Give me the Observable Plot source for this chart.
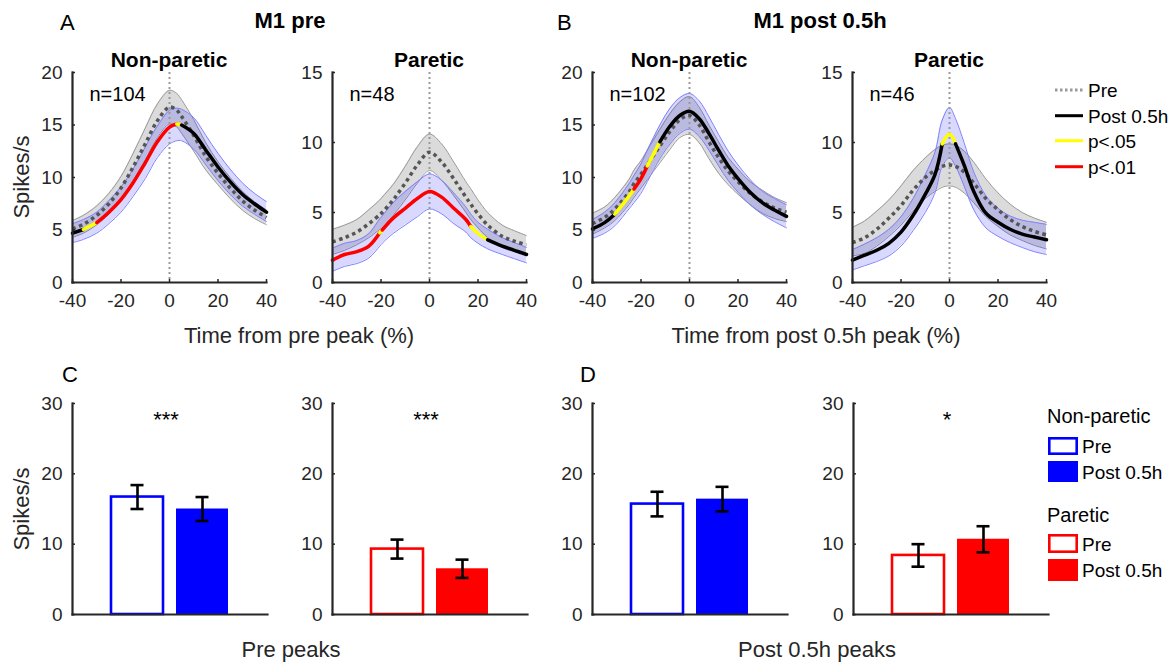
<!DOCTYPE html>
<html><head><meta charset="utf-8">
<script src="https://cdn.jsdelivr.net/npm/d3@7"></script>
<script src="https://cdn.jsdelivr.net/npm/@observablehq/plot@0.6"></script>
<style>
html,body{margin:0;padding:0;background:#fff;}
#fig{position:relative;width:1173px;height:665px;overflow:hidden;background:#fff;}
</style></head><body><div id="fig"></div>
<script>
// ---------- DATA ----------
// Panel A, Non-paretic (time from pre peak, %)
const tA      = [-40,-35.5,-30,-25,-20,-15,-10,-5,0,3,5,10,15,20,25,30,35,40];
const preA    = [5.1,5.55,6.4,7.5,9.0,11.0,13.2,15.4,16.7,16.4,15.8,14.0,12.0,10.4,9.0,7.8,6.9,6.2];
const preLoA  = [4.3,4.7,5.5,6.5,7.9,9.7,11.7,13.8,15.1,14.8,14.2,12.5,10.7,9.3,8.0,6.9,6.1,5.5];
const preHiA  = [5.9,6.4,7.3,8.5,10.1,12.3,14.7,17.0,18.3,18.0,17.4,15.5,13.3,11.5,10.0,8.7,7.7,6.9];
const postA   = [4.7,5.05,5.7,6.7,7.9,9.5,11.4,13.4,14.8,15.1,15.0,14.2,12.6,11.0,9.6,8.4,7.5,6.7];
const postLoA = [3.8,4.1,4.7,5.6,6.7,8.2,9.9,11.9,13.2,13.5,13.5,12.7,11.2,9.7,8.4,7.3,6.5,5.8];
const postHiA = [5.6,6.0,6.7,7.8,9.1,10.8,12.9,14.9,16.4,16.6,16.5,15.7,14.0,12.3,10.8,9.5,8.5,7.7];
const sigA    = ["n","y","r","r","r","r","r","r","r","y","n","n","n","n","n","n","n","n"];

// Panel A, Paretic
const tB      = [-40,-35,-30,-25,-20.5,-19.5,-15,-10,-5,0,5,10,15,17,20,24,30,35,40];
const preB    = [2.9,3.2,3.6,4.2,4.85,5.0,5.9,7.1,8.4,9.3,8.6,7.4,6.1,5.6,4.9,4.1,3.3,2.95,2.7];
const preLoB  = [2.0,2.3,2.7,3.2,3.8,3.9,4.8,5.9,7.1,8.0,7.3,6.2,5.0,4.5,3.9,3.2,2.5,2.2,2.05];
const preHiB  = [3.8,4.1,4.5,5.2,5.9,6.1,7.0,8.3,9.7,10.6,9.9,8.6,7.2,6.7,5.9,5.0,4.1,3.7,3.35];
const postB   = [1.6,2.0,2.2,2.6,3.55,3.75,4.6,5.3,6.0,6.5,6.1,5.3,4.5,4.0,3.5,3.05,2.6,2.3,2.0];
const postLoB = [0.8,1.15,1.35,1.75,2.6,2.8,3.5,4.1,4.7,5.25,4.9,4.2,3.6,3.2,2.8,2.4,2.0,1.7,1.4];
const postHiB = [2.45,2.8,3.0,3.5,4.55,4.75,5.7,6.5,7.2,7.75,7.3,6.4,5.4,4.9,4.3,3.8,3.2,2.85,2.5];
const sigB    = ["r","r","r","r","y","r","r","r","r","r","r","r","r","y","y","n","n","n","n"];

// Panel B, Non-paretic (time from post 0.5h peak, %)
const tC      = [-40,-35,-30.8,-25,-22.9,-20,-17.4,-12.2,-8,-4,0,4,8,12,16,20,25,30,35,40];
const preC    = [5.6,6.2,7.0,8.6,9.4,10.3,11.2,13.0,14.4,15.5,15.9,15.0,13.4,11.9,10.6,9.6,8.5,7.7,7.1,6.7];
const preLoC  = [4.6,5.2,5.9,7.4,8.1,9.0,9.8,11.4,12.7,13.8,14.1,13.3,11.8,10.4,9.3,8.4,7.4,6.6,6.1,5.8];
const preHiC  = [6.6,7.2,8.1,9.8,10.7,11.6,12.6,14.6,16.1,17.2,17.7,16.7,15.0,13.4,11.9,10.8,9.6,8.8,8.1,7.6];
const postC   = [5.1,5.7,6.5,8.2,8.9,9.9,11.1,13.4,14.9,15.9,16.3,15.6,14.2,12.6,11.1,9.9,8.6,7.6,6.9,6.3];
const postLoC = [4.2,4.7,5.4,7.0,7.6,8.5,9.6,11.8,13.2,14.2,14.6,13.9,12.6,11.1,9.7,8.6,7.4,6.5,5.8,5.2];
const postHiC = [6.0,6.7,7.6,9.4,10.2,11.3,12.6,15.0,16.6,17.6,18.0,17.3,15.8,14.1,12.5,11.2,9.8,8.7,8.0,7.4];
const sigC    = ["n","n","y","y","r","r","y","n","n","n","n","n","n","n","n","n","n","n","n","n"];

// Panel B, Paretic
const tD      = [-40,-35,-30,-25,-20,-15,-10,-6,-3,0,2.5,6,10,15,20,25,30,35,40];
const preD    = [2.85,3.2,3.8,4.6,5.5,6.6,7.5,8.0,8.3,8.4,8.3,7.9,7.1,6.0,5.2,4.5,4.0,3.65,3.4];
const preLoD  = [1.9,2.1,2.6,3.3,4.1,5.1,6.0,6.5,6.8,6.9,6.8,6.4,5.7,4.7,4.0,3.4,3.0,2.65,2.4];
const preHiD  = [3.95,4.4,5.1,5.9,6.9,8.0,8.9,9.5,9.8,9.9,9.8,9.4,8.6,7.4,6.4,5.6,5.0,4.6,4.3];
const postD   = [1.6,1.95,2.3,2.8,3.6,4.8,6.3,7.7,9.9,10.6,9.9,8.4,6.5,4.95,4.3,3.8,3.45,3.25,3.05];
const postLoD = [0.9,1.2,1.5,1.9,2.6,3.7,5.0,6.4,8.3,8.9,8.3,6.9,5.2,3.9,3.3,2.85,2.5,2.2,2.0];
const postHiD = [2.35,2.75,3.2,3.8,4.7,6.0,7.7,9.3,11.6,12.5,11.7,10.0,7.9,6.2,5.3,4.75,4.45,4.3,4.15];
const sigD    = ["n","n","n","n","n","n","n","n","y","y","n","n","n","n","n","n","n","n","n"];

const nLabels = ["n=104", "n=48", "n=102", "n=46"];
const xTicks = [-40, -20, 0, 20, 40];
const yTicksNon = [0, 5, 10, 15, 20];
const yTicksPar = [0, 5, 10, 15];

// Bar panels (C: pre peaks, D: post 0.5h peaks)
const conds = ["Pre", "Post 0.5h"];
const cNonMean = [16.7, 15.0], cNonSem = [1.7, 1.7];
const cParMean = [9.3, 6.5],   cParSem = [1.35, 1.3];
const dNonMean = [15.7, 16.4], dNonSem = [1.75, 1.75];
const dParMean = [8.4, 10.7],  dParSem = [1.6, 1.85];
const barStars = ["***", "***", "", "*"];
const barTicks = [0, 10, 20, 30];

// Text
const panelLetters = ["A", "B", "C", "D"];
const groupTitles = ["M1 pre", "M1 post 0.5h"];
const sideTitles = ["Non-paretic", "Paretic"];
const timeLabels = ["Time from pre peak (%)", "Time from post 0.5h peak (%)"];
const peakLabels = ["Pre peaks", "Post 0.5h peaks"];
const lineLegend = ["Pre", "Post 0.5h", "p<.05", "p<.01"];

// ---------- STYLE / LAYOUT ----------
const FONT = '"Liberation Sans", Arial, Helvetica, sans-serif';
const INK = "#262626";
const SIG = {n: "#000000", y: "#ffff00", r: "#ff0000"};
const CURVE = "catmull-rom";
const fig = document.getElementById("fig");

function place(svg, left, top) {
  svg.style.position = "absolute";
  svg.style.left = left + "px";
  svg.style.top = top + "px";
  fig.appendChild(svg);
}

function curvePanel(t, pre, preLo, preHi, post, postLo, postHi, sig, n, yMax, yTicks, x0) {
  const rows = t.map((v, i) => ({t: v, pre: pre[i], preLo: preLo[i], preHi: preHi[i],
    post: post[i], postLo: postLo[i], postHi: postHi[i], sig: sig[i]}));
  const mL = 60, mR = 12, mT = 10, mB = 40, W = 194, H = 210;
  const svg = Plot.plot({
    width: mL + W + mR, height: mT + H + mB,
    marginLeft: mL, marginRight: mR, marginTop: mT, marginBottom: mB,
    x: {domain: [-40, 40], axis: null},
    y: {domain: [0, yMax], axis: null},
    color: {type: "identity"},
    style: {fontFamily: FONT, fontSize: "19px", color: INK, background: "transparent", overflow: "visible"},
    marks: [
      Plot.areaY(rows, {x: "t", y1: "preLo", y2: "preHi", fill: "#000", fillOpacity: 0.14, curve: CURVE}),
      Plot.line(rows, {x: "t", y: "preHi", stroke: "#9a9a9a", strokeWidth: 1, curve: CURVE}),
      Plot.line(rows, {x: "t", y: "preLo", stroke: "#9a9a9a", strokeWidth: 1, curve: CURVE}),
      Plot.areaY(rows, {x: "t", y1: "postLo", y2: "postHi", fill: "#0000ff", fillOpacity: 0.15, curve: CURVE}),
      Plot.line(rows, {x: "t", y: "postHi", stroke: "#8080ff", strokeWidth: 1, curve: CURVE}),
      Plot.line(rows, {x: "t", y: "postLo", stroke: "#8080ff", strokeWidth: 1, curve: CURVE}),
      Plot.ruleX([0], {stroke: "#999", strokeWidth: 2, strokeDasharray: "2,3", strokeLinecap: "butt"}),
      Plot.line(rows, {x: "t", y: "pre", stroke: "#555", strokeWidth: 3.5, strokeDasharray: "3.5,3.5",
        strokeLinecap: "butt", strokeLinejoin: "miter", curve: CURVE}),
      Plot.line(rows, {x: "t", y: "post", z: null, stroke: d => SIG[d.sig], strokeWidth: 3.5, curve: CURVE}),
      Plot.text([n], {text: d => d, frameAnchor: "top-left", dx: 17, dy: 28, lineAnchor: "bottom",
        textAnchor: "start", fontSize: 20, fill: "#000"}),
      Plot.axisX({ticks: xTicks, tickFormat: d => String(d), tickSize: 0, tickPadding: 11, label: null, fontSize: 19}),
      Plot.axisX({ticks: xTicks, tickFormat: () => "", tickSize: -3, label: null, strokeWidth: 1.5}),
      Plot.axisY({ticks: yTicks, tickFormat: d => String(d), tickSize: 0, tickPadding: 10, label: null, fontSize: 19}),
      Plot.axisY({ticks: yTicks, tickFormat: () => "", tickSize: -3, label: null, strokeWidth: 1.5}),
      Plot.frame({anchor: "left", stroke: INK, strokeWidth: 2.2}),
      Plot.frame({anchor: "bottom", stroke: INK, strokeWidth: 2.2})
    ]
  });
  place(svg, x0 - mL, 72 - mT);
}

function barPanel(means, sems, color, star, x0) {
  const rows = conds.map((c, i) => ({cond: c, mean: means[i], sem: sems[i]}));
  const mL = 60, mR = 12, mT = 10, mB = 30, W = 195, H = 211;
  const svg = Plot.plot({
    width: mL + W + mR, height: mT + H + mB,
    marginLeft: mL, marginRight: mR, marginTop: mT, marginBottom: mB,
    x: {type: "band", domain: conds, paddingInner: 0.2, paddingOuter: 0.6, axis: null},
    y: {domain: [0, 30], axis: null},
    color: {type: "identity"},
    style: {fontFamily: FONT, fontSize: "19px", color: INK, background: "transparent", overflow: "visible"},
    marks: [
      Plot.barY(rows, {filter: d => d.cond === conds[0], x: "cond", y: "mean", fill: "white", stroke: color, strokeWidth: 2.6}),
      Plot.barY(rows, {filter: d => d.cond === conds[1], x: "cond", y: "mean", fill: color}),
      Plot.ruleX(rows, {x: "cond", y1: d => d.mean - d.sem, y2: d => d.mean + d.sem, stroke: "#000", strokeWidth: 2.6}),
      Plot.tickY(rows, {x: "cond", y: d => d.mean + d.sem, insetLeft: 19.5, insetRight: 19.5, stroke: "#000", strokeWidth: 2.6}),
      Plot.tickY(rows, {x: "cond", y: d => d.mean - d.sem, insetLeft: 19.5, insetRight: 19.5, stroke: "#000", strokeWidth: 2.6}),
      Plot.text([star], {text: d => d, frameAnchor: "top", dx: -4, dy: 23, lineAnchor: "bottom", fontSize: 22, fill: "#000"}),
      Plot.axisY({ticks: barTicks, tickFormat: d => String(d), tickSize: 0, tickPadding: 10, label: null, fontSize: 19}),
      Plot.axisY({ticks: barTicks, tickFormat: () => "", tickSize: -3, label: null, strokeWidth: 1.5}),
      Plot.frame({anchor: "left", stroke: INK, strokeWidth: 2.2}),
      Plot.frame({anchor: "bottom", stroke: INK, strokeWidth: 2.2})
    ]
  });
  place(svg, x0 - mL, 403 - mT);
}

curvePanel(tA, preA, preLoA, preHiA, postA, postLoA, postHiA, sigA, nLabels[0], 20, yTicksNon, 72);
curvePanel(tB, preB, preLoB, preHiB, postB, postLoB, postHiB, sigB, nLabels[1], 15, yTicksPar, 332);
curvePanel(tC, preC, preLoC, preHiC, postC, postLoC, postHiC, sigC, nLabels[2], 20, yTicksNon, 592);
curvePanel(tD, preD, preLoD, preHiD, postD, postLoD, postHiD, sigD, nLabels[3], 15, yTicksPar, 852);

barPanel(cNonMean, cNonSem, "#0000ff", barStars[0], 72);
barPanel(cParMean, cParSem, "#ff0000", barStars[1], 332);
barPanel(dNonMean, dNonSem, "#0000ff", barStars[2], 592);
barPanel(dParMean, dParSem, "#ff0000", barStars[3], 853);

// ---------- ANNOTATION OVERLAY ----------
const ov = d3.select(fig).append("svg")
  .attr("width", 1173).attr("height", 665)
  .style("position", "absolute").style("left", "0px").style("top", "0px")
  .attr("font-family", FONT);

function txt(s, x, y, o = {}) {
  const el = ov.append("text").attr("x", x).attr("y", y)
    .attr("text-anchor", o.anchor || "start")
    .attr("font-size", o.size || 20)
    .attr("font-weight", o.weight || "normal")
    .attr("fill", o.fill || "#000")
    .text(s);
  if (o.rotate) el.attr("transform", `rotate(-90 ${x} ${y})`);
  return el;
}

txt(panelLetters[0], 60, 30, {size: 22});
txt(panelLetters[1], 557, 30, {size: 22});
txt(panelLetters[2], 62, 382, {size: 22});
txt(panelLetters[3], 580, 382, {size: 22});
txt(groupTitles[0], 290, 28, {anchor: "middle", size: 22, weight: "bold"});
txt(groupTitles[1], 820, 28, {anchor: "middle", size: 22, weight: "bold"});
[169, 429, 689, 949].forEach((cx, i) => txt(sideTitles[i % 2], cx, 67, {anchor: "middle", size: 21, weight: "bold"}));
txt("Spikes/s", 29, 177, {anchor: "middle", size: 22, rotate: true, fill: INK});
txt("Spikes/s", 29, 509, {anchor: "middle", size: 22, rotate: true, fill: INK});
txt(timeLabels[0], 299, 343, {anchor: "middle", size: 22, fill: INK});
txt(timeLabels[1], 816, 343, {anchor: "middle", size: 22, fill: INK});
txt(peakLabels[0], 291, 657, {anchor: "middle", size: 22, fill: INK});
txt(peakLabels[1], 817, 657, {anchor: "middle", size: 22, fill: INK});

// line legend (top right)
const legStyles = [
  {stroke: "#999", dash: "2.5,2.5"},
  {stroke: "#000", dash: null},
  {stroke: "#ffff00", dash: null},
  {stroke: "#ff0000", dash: null}
];
[90, 115.7, 140.7, 166.7].forEach((y, i) => {
  const l = ov.append("line").attr("x1", 1055).attr("x2", 1083).attr("y1", y).attr("y2", y)
    .attr("stroke", legStyles[i].stroke).attr("stroke-width", 3);
  if (legStyles[i].dash) l.attr("stroke-dasharray", legStyles[i].dash);
  txt(lineLegend[i], 1088, y + 6.8, {size: 19});
});

// bar legend (bottom right)
const barLegend = [
  {head: sideTitles[0], y: 423, color: "#0000ff", boxes: [[437, 455], [461, 482]]},
  {head: sideTitles[1], y: 522, color: "#ff0000", boxes: [[534, 553], [559, 581]]}
];
barLegend.forEach(g => {
  txt(g.head, 1047, g.y, {size: 20});
  g.boxes.forEach((b, j) => {
    const r = ov.append("rect").attr("x", j === 0 ? 1049.3 : 1048).attr("width", j === 0 ? 27.4 : 30)
      .attr("y", j === 0 ? b[0] + 1.3 : b[0]).attr("height", j === 0 ? b[1] - b[0] - 2.6 : b[1] - b[0]);
    if (j === 0) r.attr("fill", "white").attr("stroke", g.color).attr("stroke-width", 2.6);
    else r.attr("fill", g.color);
    txt(conds[j], 1082, (b[0] + b[1]) / 2 + 7, {size: 19});
  });
});
</script></body></html>
